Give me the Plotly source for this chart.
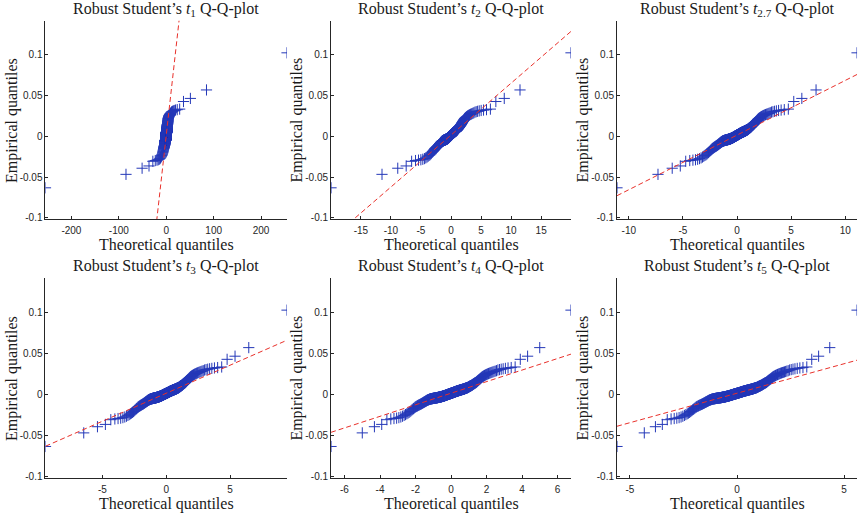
import numpy as np
import plotly.graph_objects as go

# Degrees of freedom of the Student's t reference distributions
DOF = [1, 2, 2.7, 3, 4, 5]
DOF_LABELS = ["1", "2", "2.7", "3", "4", "5"]

# Sorted sample of daily returns, in basis points (1e-4)
RETURNS_BP = [
    -630, -465, -390, -362, -305, -296, -291, -286, -280, -272,
    -263, -253, -243, -233,
    -225, -216, -206, -196, -186, -178, -170, -162, -154, -149, -144,
    -140, -136, -132, -128, -125, -122, -119, -116, -113, -110, -107, -104, -101, -98, -95,
    -92, -90, -87, -85, -82, -80, -78, -75, -73, -70,
    -68, -67, -65, -64, -62, -61, -60, -58, -57, -56, -55, -54, -53, -52,
    -51, -51, -50, -50, -49, -49, -48, -48, -47, -47, -46, -46, -45, -45, -44, -44, -43, -43,
    -42, -42, -41, -41, -40, -40, -40, -39, -39, -39, -38, -38, -38, -37, -37, -37, -36, -36,
    -35, -35, -34, -34, -33, -33, -32, -32, -31, -31, -30, -30, -30, -29, -29, -29, -28, -28,
    -27, -27, -27, -26, -26, -25, -25,
    -24, -24, -23, -23, -22, -22, -21, -21, -20, -20, -19, -19, -18, -18, -17, -17, -16, -16,
    -15, -15, -14, -14, -13, -13, -12,
    -11, -11, -10, -10, -9, -9, -8, -7, -7, -6, -6, -5, -5, -4, -3, -3, -2, -2, -1, -1,
    0, 0, 1, 1, 2,
    3, 3, 4, 4, 5, 5, 6, 6, 7, 7, 8, 8, 9, 9, 10, 10, 11, 11, 12, 12, 13, 13, 14, 14, 15,
    16, 16, 17, 17, 18, 18, 19, 19, 20, 20, 21, 21, 22, 22, 23, 23, 24, 24, 25, 25, 26, 26,
    27, 27, 28,
    29, 29, 30, 30, 31, 32, 32, 33, 33, 34, 34, 35, 35, 36, 37, 37, 38, 38, 39, 39, 40, 40,
    41, 41, 42,
    43, 43, 44, 44, 45, 45, 46, 46, 47, 47, 48, 48, 49, 49, 50, 50, 51, 51, 52, 52, 53, 53,
    54, 54, 55,
    56, 56, 57, 57, 58, 58, 59, 59, 60, 60, 61, 61, 62, 62, 63, 63, 64, 64, 65, 65, 66, 66,
    67, 67, 68,
    69, 70, 71, 72, 73, 74, 74, 75, 76, 77, 78, 79, 80, 80, 81, 82, 83, 84, 84, 85,
    86, 88, 89, 91, 92, 94, 95, 97, 98, 100, 101, 103, 104, 106, 107, 109, 110, 112, 113, 115,
    117, 119, 122, 124, 126, 129, 131, 133, 136, 138, 140, 143, 145, 147, 150,
    154, 158, 162, 166, 170, 174, 178, 182, 186, 190,
    195, 200, 205, 210, 215, 219, 223, 227, 231, 235,
    239, 243, 247, 251, 255, 259, 263, 267, 271, 275,
    280, 285, 290,
    298, 303, 308, 313, 318, 323, 328, 335,
    428, 466, 570, 1025,
]

X_TICKS = [
    [-200, -100, 0, 100, 200],
    [-15, -10, -5, 0, 5, 10, 15],
    [-10, -5, 0, 5, 10],
    [-5, 0, 5],
    [-6, -4, -2, 0, 2, 4, 6],
    [-5, 0, 5],
]
Y_TICKS = [-0.1, -0.05, 0, 0.05, 0.1]
Y_TICK_TEXT = ["-0.1", "-0.05", "0", "0.05", "0.1"]
Y_RANGE = [-0.1016, 0.1417]

X_DOMAINS = [[0.0526, 0.3318], [0.3827, 0.6601], [0.7133, 0.9908]]
Y_DOMAINS = [[0.5742, 0.9595], [0.0713, 0.4605]]

AXIS_COLOR = "#262626"
MARKER_COLOR = "#2438b8"
LINE_COLOR = "#e8302a"
SERIF = "Liberation Serif, Times New Roman, serif"
SANS = "Liberation Sans, Arial, sans-serif"


def t_ppf(p, nu, m=400001):
    """Student's t quantiles via t = sqrt(nu)*tan(theta), density ~ cos(theta)^(nu-1)."""
    theta = np.linspace(-np.pi / 2, np.pi / 2, m)
    w = np.clip(np.cos(theta), 0, None) ** (nu - 1)
    cdf = np.concatenate([[0.0], np.cumsum(0.5 * (w[1:] + w[:-1]) * np.diff(theta))])
    cdf /= cdf[-1]
    return np.sqrt(nu) * np.tan(np.interp(p, cdf, theta))


y = np.sort(np.array(RETURNS_BP, dtype=float) / 1e4)
n = len(y)
probs = (np.arange(1, n + 1) - 0.5) / n
y25, y75 = np.percentile(y, [25, 75], method="hazen")

fig = go.Figure()
annotations = []

for k, nu in enumerate(DOF):
    row, col = divmod(k, 3)
    suffix = "" if k == 0 else str(k + 1)
    xq = t_ppf(probs, nu)
    x25, x75 = np.percentile(xq, [25, 75], method="hazen")
    slope = (y75 - y25) / (x75 - x25)
    xmin, xmax = xq[0], xq[-1]
    line_x = [xmin, xmax]
    line_y = [y25 + slope * (xmin - x25), y25 + slope * (xmax - x25)]

    fig.add_trace(go.Scatter(
        x=xq, y=y, mode="markers", xaxis="x" + suffix, yaxis="y" + suffix,
        marker=dict(symbol="cross-thin", size=8, line=dict(width=1, color=MARKER_COLOR),
                    color=MARKER_COLOR),
        showlegend=False, hoverinfo="skip",
    ))
    fig.add_trace(go.Scatter(
        x=line_x, y=line_y, mode="lines", xaxis="x" + suffix, yaxis="y" + suffix,
        line=dict(color=LINE_COLOR, width=1, dash="5px,3px"),
        showlegend=False, hoverinfo="skip",
    ))

    common = dict(
        showline=True, linecolor=AXIS_COLOR, linewidth=1, mirror=False,
        ticks="inside", ticklen=3, tickcolor=AXIS_COLOR, tickwidth=1,
        showgrid=False, zeroline=False,
        tickfont=dict(family=SANS, size=10, color=AXIS_COLOR),
    )
    fig.update_layout({
        "xaxis" + suffix: dict(
            domain=X_DOMAINS[col], range=[xmin, xmax], anchor="y" + suffix,
            tickvals=X_TICKS[k], ticktext=[str(v) for v in X_TICKS[k]],
            ticklabelstandoff=2, **common),
        "yaxis" + suffix: dict(
            domain=Y_DOMAINS[row], range=Y_RANGE, anchor="x" + suffix,
            tickvals=Y_TICKS, ticktext=Y_TICK_TEXT, **common),
    })

    xc = sum(X_DOMAINS[col]) / 2
    y_top = Y_DOMAINS[row][1]
    y_bot = Y_DOMAINS[row][0]
    yc = (y_top + y_bot) / 2
    title_font = dict(family=SERIF, size=16, color="#1a1a1a")
    annotations.append(dict(
        text=f"Robust Student\u2019s <i>t</i><sub>{DOF_LABELS[k]}</sub> Q-Q-plot",
        x=xc, y=y_top + 11.5 / 519, xref="paper", yref="paper",
        xanchor="center", yanchor="middle", showarrow=False, font=title_font))
    annotations.append(dict(
        text="Theoretical quantiles", x=xc, y=y_bot - 26 / 519, xref="paper", yref="paper",
        xanchor="center", yanchor="middle", showarrow=False, font=title_font))
    annotations.append(dict(
        text="Empirical quantiles", x=X_DOMAINS[col][0] - 33.5 / 865, y=yc,
        xref="paper", yref="paper", xanchor="center", yanchor="middle",
        textangle=-90, showarrow=False, font=title_font))

fig.update_layout(
    width=865, height=519,
    margin=dict(l=0, r=0, t=0, b=0),
    paper_bgcolor="white", plot_bgcolor="white",
    annotations=annotations,
)

fig.write_html("out.html")
